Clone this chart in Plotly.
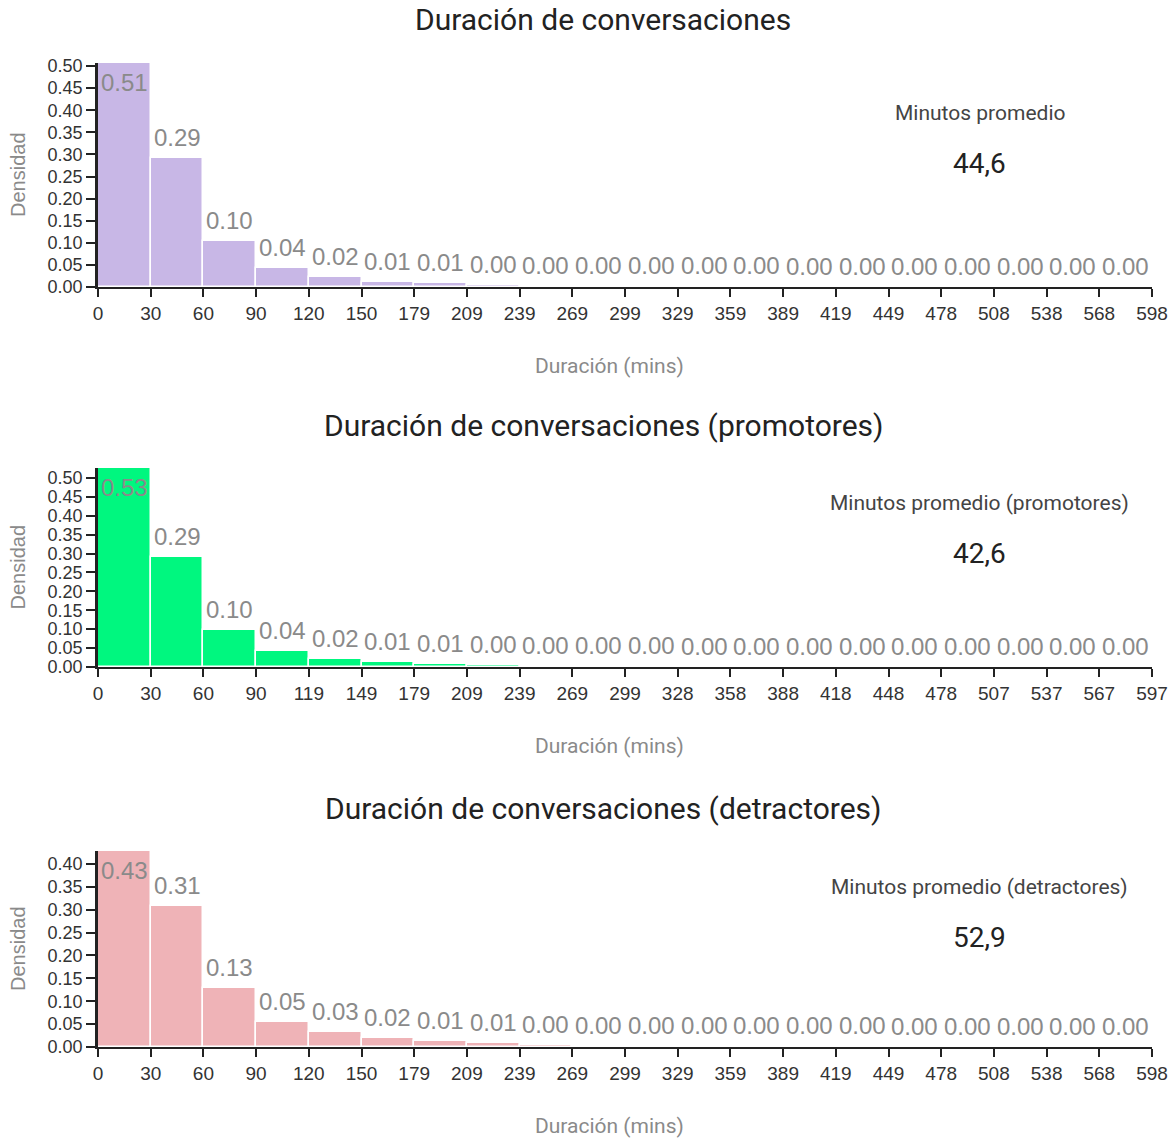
import numpy as np
import plotly.graph_objects as go

# Histogram densities (20 equal-width bins) for each conversation group
dens_all = [0.507, 0.293, 0.103, 0.043, 0.022, 0.011, 0.009, 0.004, 0.003, 0.002,
            0.002, 0.0015, 0.0012, 0.001, 0.001, 0.0008, 0.0002, 0.0006, 0.0005, 0.0002]
dens_prom = [0.526, 0.290, 0.099, 0.041, 0.021, 0.012, 0.008, 0.004, 0.003, 0.002,
             0.0015, 0.0012, 0.001, 0.001, 0.0008, 0.0006, 0.0005, 0.0004, 0.0003, 0.0002]
dens_detr = [0.428, 0.309, 0.128, 0.054, 0.032, 0.019, 0.014, 0.008, 0.004, 0.003,
             0.003, 0.002, 0.002, 0.002, 0.0015, 0.001, 0.001, 0.001, 0.0008, 0.0008]

max_mins = [598, 597, 598]          # upper end of each duration range
mean_mins = ["44,6", "42,6", "52,9"]

titles = ["Duración de conversaciones",
          "Duración de conversaciones (promotores)",
          "Duración de conversaciones (detractores)"]
kpi_labels = ["Minutos promedio",
              "Minutos promedio (promotores)",
              "Minutos promedio (detractores)"]
colors = ["#c8b7e6", "#00f77f", "#efb3b7"]
x_title = "Duración (mins)"
y_title = "Densidad"

W, H = 1169, 1138
# plot boxes in pixels: (left, right, top, bottom)
boxes = [(98, 1152, 63, 287), (98, 1152, 468, 667), (98, 1152, 851, 1047)]
# vertical pixel centre of the average-duration card (label, value)
kpi_y = [(113, 163), (503, 553), (887, 937)]

XTICK_FONT = dict(family="Liberation Sans, Arial, sans-serif", size=19, color="#333333")
YTICK_FONT = dict(family="Liberation Sans, Arial, sans-serif", size=18, color="#333333")
LABEL_FONT = dict(family="Liberation Sans, Arial, sans-serif", size=24, color="#8a8a8a")
DIN = "Roboto, 'Noto Sans', sans-serif"

fig = go.Figure()
annotations = []
series = [dens_all, dens_prom, dens_detr]

for i, dens in enumerate(series):
    n = len(dens)
    xmax = max_mins[i]
    edges = np.linspace(0, xmax, n + 1)
    width = edges[1] - edges[0]
    centers = edges[:-1] + width / 2
    ymax = max(dens)
    sfx = "" if i == 0 else str(i + 1)
    xa, ya = "x" + sfx, "y" + sfx

    fig.add_trace(go.Bar(
        x=centers, y=dens, width=width,
        marker=dict(color=colors[i], line=dict(color="white", width=1.5)),
        xaxis=xa, yaxis=ya, showlegend=False, hoverinfo="x+y",
    ))

    l, r, t, b = boxes[i]
    xdom = [l / W, r / W]
    ydom = [1 - b / H, 1 - t / H]
    ticktext = [str(int(np.floor(e + 0.5))) for e in edges]
    fig.layout["xaxis" + sfx] = dict(
        domain=xdom, range=[0, xmax], anchor=ya, automargin=False,
        tickvals=list(edges), ticktext=ticktext,
        showline=True, linecolor="#222222", linewidth=2,
        ticks="outside", ticklen=8, tickwidth=1.5, tickcolor="#222222",
        showgrid=False, zeroline=False, tickfont=XTICK_FONT,
    )
    fig.layout["yaxis" + sfx] = dict(
        domain=ydom, range=[0, ymax], anchor=xa, automargin=False,
        tick0=0, dtick=0.05, tickformat=".2f",
        showline=True, linecolor="#222222", linewidth=2.5,
        ticks="outside", ticklen=9, tickwidth=1.5, tickcolor="#222222",
        showgrid=False, zeroline=False, tickfont=YTICK_FONT,
    )

    # value labels above each bar (inside the top of the tallest one)
    for c, v in zip(centers, dens):
        top = v >= ymax
        annotations.append(dict(
            x=c, y=v, xref=xa, yref=ya, text=f"{v:.2f}", showarrow=False,
            xanchor="center",
            yanchor="top" if top else "bottom", yshift=-4 if top else 5,
            font=LABEL_FONT,
        ))

    # chart title
    annotations.append(dict(
        x=603 / W, y=1 - (t - 43) / H, xref="paper", yref="paper",
        text=titles[i], showarrow=False, xanchor="center", yanchor="middle",
        font=dict(family=DIN, size=30, color="#222222"),
    ))
    # axis titles
    annotations.append(dict(
        x=609 / W, y=1 - (b + 79) / H, xref="paper", yref="paper",
        text=x_title, showarrow=False, xanchor="center", yanchor="middle",
        font=dict(family=DIN, size=21, color="#8a8a8a"),
    ))
    annotations.append(dict(
        x=18 / W, y=1 - (t + b) / 2 / H, xref="paper", yref="paper",
        text=y_title, showarrow=False, textangle=-90, xanchor="center", yanchor="middle",
        font=dict(family="Liberation Sans, Arial, sans-serif", size=20, color="#8a8a8a"),
    ))
    # average duration card
    ky1, ky2 = kpi_y[i]
    annotations.append(dict(
        x=980 / W, y=1 - ky1 / H, xref="paper", yref="paper",
        text=kpi_labels[i], showarrow=False, xanchor="center", yanchor="middle",
        font=dict(family=DIN, size=21, color="#444444"),
    ))
    annotations.append(dict(
        x=980 / W, y=1 - ky2 / H, xref="paper", yref="paper",
        text=mean_mins[i], showarrow=False, xanchor="center", yanchor="middle",
        font=dict(family=DIN, size=28, color="#222222"),
    ))

fig.update_layout(
    width=W, height=H,
    margin=dict(l=0, r=0, t=0, b=0),
    paper_bgcolor="white", plot_bgcolor="white",
    bargap=0, annotations=annotations,
)

fig.write_html("out.html")
